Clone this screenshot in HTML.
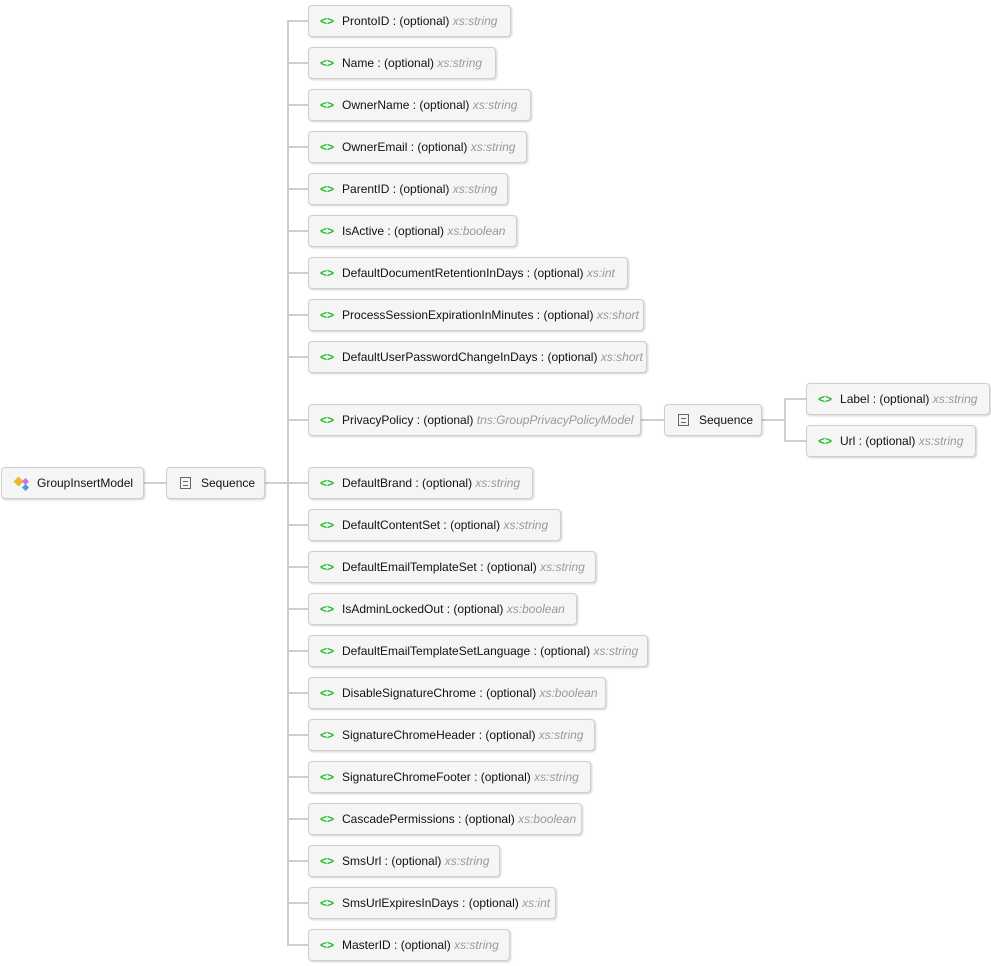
<!DOCTYPE html>
<html><head><meta charset="utf-8">
<style>
body{margin:0;width:991px;height:966px;background:#fff;position:relative;overflow:hidden;font-family:"Liberation Sans",sans-serif;}
.b{position:absolute;height:32px;background:#f5f5f5;border:1px solid #cfcfcf;border-radius:4px;box-shadow:1px 1px 2px rgba(0,0,0,0.18);box-sizing:border-box;font-size:12px;color:#111;line-height:30px;white-space:nowrap;overflow:hidden;}
.e{padding-left:11px;}
.e::before{content:"<>";color:#22bb22;font-weight:bold;font-size:12px;margin-right:8px;}
.t{color:#999;font-style:italic;}
.l{position:absolute;background:#cfcfcf;}
.sq{display:inline-block;width:11px;height:12px;border:1px solid #666;box-sizing:border-box;vertical-align:middle;margin:0 10px 2px 13px;position:relative;}
.sq::after{content:"";position:absolute;left:2px;top:3px;width:5px;height:3px;border-top:1px solid #666;border-bottom:1px solid #666;}
</style></head><body>
<div class="l" style="left:287px;top:21px;width:2px;height:925px"></div>
<div class="l" style="left:144px;top:482px;width:22px;height:2px"></div>
<div class="l" style="left:265px;top:482px;width:22px;height:2px"></div>
<div class="l" style="left:641px;top:419px;width:23px;height:2px"></div>
<div class="l" style="left:762px;top:419px;width:22px;height:2px"></div>
<div class="l" style="left:784px;top:398px;width:2px;height:44px"></div>
<div class="l" style="left:784px;top:398px;width:22px;height:2px"></div>
<div class="l" style="left:784px;top:440px;width:22px;height:2px"></div>

<div class="l" style="left:287px;top:20px;width:21px;height:2px"></div>
<div class="l" style="left:287px;top:62px;width:21px;height:2px"></div>
<div class="l" style="left:287px;top:104px;width:21px;height:2px"></div>
<div class="l" style="left:287px;top:146px;width:21px;height:2px"></div>
<div class="l" style="left:287px;top:188px;width:21px;height:2px"></div>
<div class="l" style="left:287px;top:230px;width:21px;height:2px"></div>
<div class="l" style="left:287px;top:272px;width:21px;height:2px"></div>
<div class="l" style="left:287px;top:314px;width:21px;height:2px"></div>
<div class="l" style="left:287px;top:356px;width:21px;height:2px"></div>
<div class="l" style="left:287px;top:419px;width:21px;height:2px"></div>
<div class="l" style="left:287px;top:482px;width:21px;height:2px"></div>
<div class="l" style="left:287px;top:524px;width:21px;height:2px"></div>
<div class="l" style="left:287px;top:566px;width:21px;height:2px"></div>
<div class="l" style="left:287px;top:608px;width:21px;height:2px"></div>
<div class="l" style="left:287px;top:650px;width:21px;height:2px"></div>
<div class="l" style="left:287px;top:692px;width:21px;height:2px"></div>
<div class="l" style="left:287px;top:734px;width:21px;height:2px"></div>
<div class="l" style="left:287px;top:776px;width:21px;height:2px"></div>
<div class="l" style="left:287px;top:818px;width:21px;height:2px"></div>
<div class="l" style="left:287px;top:860px;width:21px;height:2px"></div>
<div class="l" style="left:287px;top:902px;width:21px;height:2px"></div>
<div class="l" style="left:287px;top:944px;width:21px;height:2px"></div>

<div class="b" style="left:1px;top:467px;width:143px;padding-left:13px"><span style="display:inline-block;width:16px;position:relative;height:12px;vertical-align:middle;margin-right:6px"><span style="position:absolute;left:0;top:0;width:7px;height:7px;background:#e8b830;transform:rotate(45deg)"></span><span style="position:absolute;left:8px;top:1px;width:5px;height:5px;background:#d070d8;transform:rotate(45deg)"></span><span style="position:absolute;left:8px;top:7px;width:5px;height:5px;background:#40a0e0;transform:rotate(45deg)"></span></span>GroupInsertModel</div>
<div class="b" style="left:166px;top:467px;width:99px"><span class="sq"></span>Sequence</div>
<div class="b" style="left:664px;top:404px;width:98px"><span class="sq"></span>Sequence</div>
<div class="b e" style="left:806px;top:383px;width:184px">Label : (optional) <span class="t">xs:string</span></div>
<div class="b e" style="left:806px;top:425px;width:170px">Url : (optional) <span class="t">xs:string</span></div>

<div class="b e" style="left:308px;top:5px;width:203px">ProntoID : (optional) <span class="t">xs:string</span></div>
<div class="b e" style="left:308px;top:47px;width:188px">Name : (optional) <span class="t">xs:string</span></div>
<div class="b e" style="left:308px;top:89px;width:223px">OwnerName : (optional) <span class="t">xs:string</span></div>
<div class="b e" style="left:308px;top:131px;width:219px">OwnerEmail : (optional) <span class="t">xs:string</span></div>
<div class="b e" style="left:308px;top:173px;width:200px">ParentID : (optional) <span class="t">xs:string</span></div>
<div class="b e" style="left:308px;top:215px;width:209px">IsActive : (optional) <span class="t">xs:boolean</span></div>
<div class="b e" style="left:308px;top:257px;width:320px">DefaultDocumentRetentionInDays : (optional) <span class="t">xs:int</span></div>
<div class="b e" style="left:308px;top:299px;width:336px">ProcessSessionExpirationInMinutes : (optional) <span class="t">xs:short</span></div>
<div class="b e" style="left:308px;top:341px;width:339px">DefaultUserPasswordChangeInDays : (optional) <span class="t">xs:short</span></div>
<div class="b e" style="left:308px;top:404px;width:333px">PrivacyPolicy : (optional) <span class="t">tns:GroupPrivacyPolicyModel</span></div>
<div class="b e" style="left:308px;top:467px;width:225px">DefaultBrand : (optional) <span class="t">xs:string</span></div>
<div class="b e" style="left:308px;top:509px;width:253px">DefaultContentSet : (optional) <span class="t">xs:string</span></div>
<div class="b e" style="left:308px;top:551px;width:288px">DefaultEmailTemplateSet : (optional) <span class="t">xs:string</span></div>
<div class="b e" style="left:308px;top:593px;width:269px">IsAdminLockedOut : (optional) <span class="t">xs:boolean</span></div>
<div class="b e" style="left:308px;top:635px;width:340px">DefaultEmailTemplateSetLanguage : (optional) <span class="t">xs:string</span></div>
<div class="b e" style="left:308px;top:677px;width:298px">DisableSignatureChrome : (optional) <span class="t">xs:boolean</span></div>
<div class="b e" style="left:308px;top:719px;width:287px">SignatureChromeHeader : (optional) <span class="t">xs:string</span></div>
<div class="b e" style="left:308px;top:761px;width:283px">SignatureChromeFooter : (optional) <span class="t">xs:string</span></div>
<div class="b e" style="left:308px;top:803px;width:274px">CascadePermissions : (optional) <span class="t">xs:boolean</span></div>
<div class="b e" style="left:308px;top:845px;width:192px">SmsUrl : (optional) <span class="t">xs:string</span></div>
<div class="b e" style="left:308px;top:887px;width:248px">SmsUrlExpiresInDays : (optional) <span class="t">xs:int</span></div>
<div class="b e" style="left:308px;top:929px;width:202px">MasterID : (optional) <span class="t">xs:string</span></div>
</body></html>
